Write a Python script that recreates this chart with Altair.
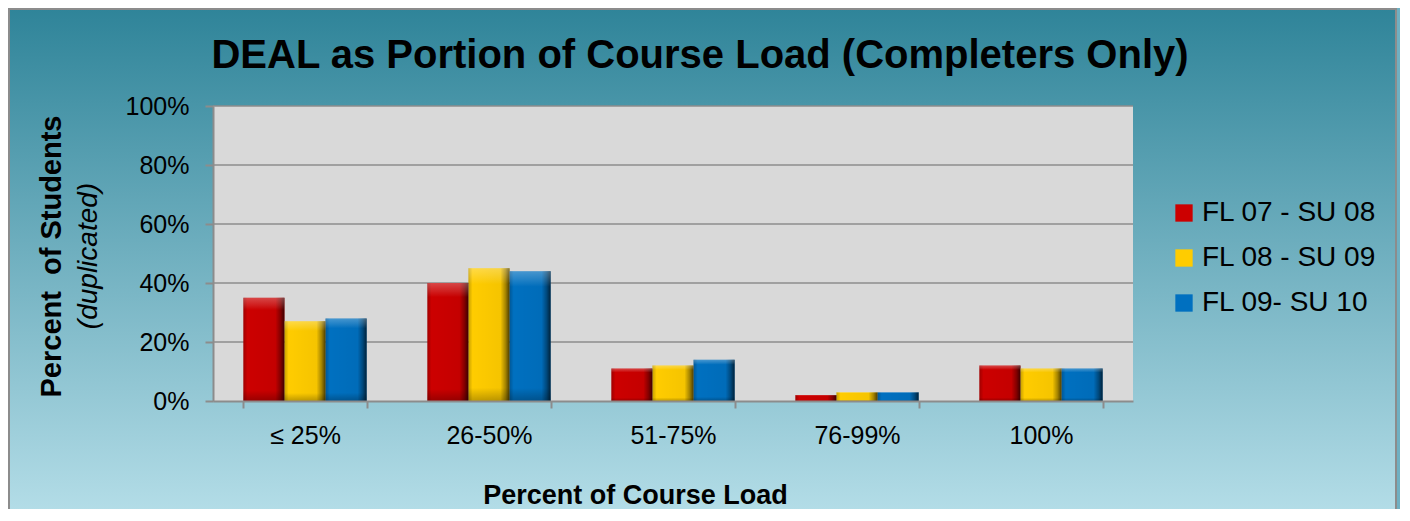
import altair as alt
import pandas as pd

categories = ["≤ 25%", "26-50%", "51-75%", "76-99%", "100%"]
series = ["FL 07 - SU 08", "FL 08 - SU 09", "FL 09- SU 10"]
fl07_su08 = [35, 40, 11, 2, 12]
fl08_su09 = [27, 45, 12, 3, 11]
fl09_su10 = [28, 44, 14, 3, 11]
y_ticks = [0, 20, 40, 60, 80, 100]
colors = ["#cc0000", "#ffcc00", "#0070c0"]
chart_title = "DEAL as Portion of Course Load (Completers Only)"

rows = []
for s, vals in zip(series, [fl07_su08, fl08_su09, fl09_su10]):
    for c, v in zip(categories, vals):
        rows.append({"category": c, "series": s, "value": v})
df = pd.DataFrame(rows)
grid_df = pd.DataFrame({"tick": y_ticks[1:]})

W, H = 920, 295
PL, PT, PR, PB = 205, 98, 267, 108
FONT = "Liberation Sans"

bg_grad = alt.Gradient(
    gradient="linear",
    stops=[alt.GradientStop(offset=0, color="#2f8499"),
           alt.GradientStop(offset=1, color="#b8e0ea")],
    x1=0, x2=0, y1=0, y2=1,
)
shade_grad = alt.Gradient(
    gradient="linear",
    stops=[alt.GradientStop(offset=0, color="rgba(0,0,0,0.22)"),
           alt.GradientStop(offset=0.1, color="rgba(0,0,0,0)"),
           alt.GradientStop(offset=0.78, color="rgba(0,0,0,0.04)"),
           alt.GradientStop(offset=0.9, color="rgba(0,0,0,0.35)"),
           alt.GradientStop(offset=1, color="rgba(0,0,0,0.7)")],
    x1=0, x2=1, y1=0, y2=0,
)
vshade_grad = alt.Gradient(
    gradient="linear",
    stops=[alt.GradientStop(offset=0, color="rgba(255,255,255,0.28)"),
           alt.GradientStop(offset=0.07, color="rgba(255,255,255,0.12)"),
           alt.GradientStop(offset=0.12, color="rgba(255,255,255,0)"),
           alt.GradientStop(offset=0.9, color="rgba(0,0,0,0)"),
           alt.GradientStop(offset=1, color="rgba(0,0,0,0.25)")],
    x1=0, x2=0, y1=0, y2=1,
)

one = alt.Data(values=[{"a": 1}])

background = alt.Chart(one).mark_rect(
    fill=bg_grad, stroke="#8c8c8c", strokeWidth=2
).encode(
    x=alt.value(-PL + 1), x2=alt.value(W + PR - 4),
    y=alt.value(-PT + 1), y2=alt.value(H + PB + 20),
)

plot_bg = alt.Chart(one).mark_rect(fill="#d9d9d9").encode(
    x=alt.value(0), x2=alt.value(W), y=alt.value(0), y2=alt.value(H)
)

y_scale = alt.Scale(domain=[0, 100], nice=False)

grid = alt.Chart(grid_df).mark_rule(color="#8c8c8c", strokeWidth=1.5).encode(
    y=alt.Y("tick:Q", scale=y_scale),
    x=alt.value(0), x2=alt.value(W),
)

x_enc = alt.X(
    "category:N", sort=categories,
    scale=alt.Scale(paddingInner=0.33, paddingOuter=0.165),
    axis=alt.Axis(
        title="Percent of Course Load", labelAngle=0, labelFontSize=25,
        labelFont=FONT, labelColor="black", labelPadding=15,
        tickSize=7, tickWidth=2, tickColor="#8c8c8c", tickBand="extent",
        domainColor="#8c8c8c", domainWidth=2,
        titleFontSize=27, titleFont=FONT, titleFontWeight="bold",
        titleColor="black", titleX=422, titleY=102,
        titleBaseline="alphabetic", titleAlign="center", zindex=1,
    ),
)
xo_enc = alt.XOffset("series:N", sort=series,
                     scale=alt.Scale(paddingInner=0, paddingOuter=0))
y_enc = alt.Y(
    "value:Q", scale=y_scale,
    axis=alt.Axis(
        values=y_ticks, labelExpr="datum.value + '%'", grid=False,
        labelFontSize=25, labelFont=FONT, labelColor="black", labelPadding=16,
        tickSize=8, tickWidth=2, tickColor="#8c8c8c",
        domainColor="#8c8c8c", domainWidth=2,
        title="Percent\u00a0 of Students", titleFontSize=29, titleFont=FONT,
        titleFontWeight="bold", titleColor="black", titleAngle=270,
        titleX=-162, titleY=150, titleBaseline="middle", titleAlign="center",
        zindex=1,
    ),
)

bars = alt.Chart(df).mark_bar().encode(
    x=x_enc, xOffset=xo_enc, y=y_enc,
    color=alt.Color(
        "series:N", sort=series,
        scale=alt.Scale(domain=series, range=colors),
        legend=alt.Legend(
            title=None, orient="none", legendX=957, legendY=93,
            labelFontSize=28, labelFont=FONT, labelColor="black",
            labelLimit=400,
            symbolType="square", symbolSize=300, symbolStrokeWidth=0,
            rowPadding=17, labelOffset=4,
        ),
    ),
)

shade = alt.Chart(df).mark_bar(fill=shade_grad).encode(
    x=alt.X("category:N", sort=categories),
    xOffset=alt.XOffset("series:N", sort=series),
    y=alt.Y("value:Q"),
)

vshade = alt.Chart(df).mark_bar(fill=vshade_grad).encode(
    x=alt.X("category:N", sort=categories),
    xOffset=alt.XOffset("series:N", sort=series),
    y=alt.Y("value:Q"),
)

dup = alt.Chart(one).mark_text(
    text="(duplicated)", angle=270, fontSize=28, font=FONT,
    fontStyle="italic", color="black", align="center", baseline="middle",
).encode(x=alt.value(-124), y=alt.value(150))

title_txt = alt.Chart(one).mark_text(
    text=chart_title, fontSize=40, font=FONT, fontWeight="bold",
    color="black", align="center", baseline="alphabetic",
).encode(x=alt.value(487), y=alt.value(-38))

chart = alt.layer(
    background, plot_bg, grid, bars, shade, vshade, dup, title_txt
).properties(
    width=W, height=H,
    autosize=alt.AutoSizeParams(type="none"),
    padding={"left": PL, "top": PT, "right": PR, "bottom": PB},
).configure_view(stroke=None).configure(background="#6fb0c2")

chart.save("out.html", embed_options={"renderer": "svg", "actions": False})
